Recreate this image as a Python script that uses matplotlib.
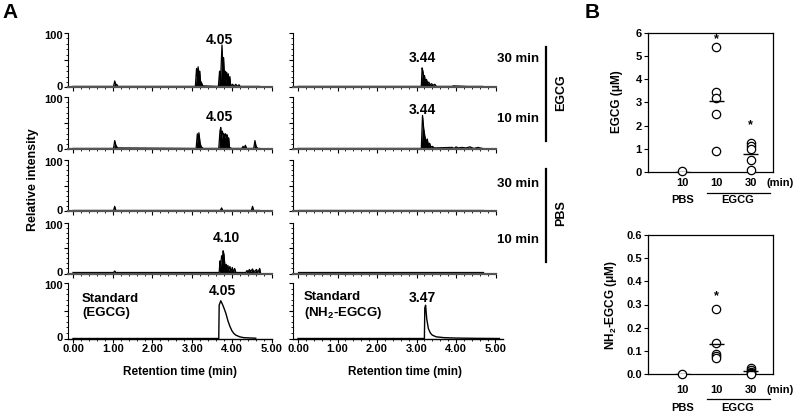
import matplotlib
matplotlib.use("Agg")
import matplotlib.pyplot as plt
from matplotlib.lines import Line2D
from matplotlib.ticker import MultipleLocator
import matplotlib.transforms as mtransforms

plt.rcParams["font.family"] = ["Liberation Sans", "DejaVu Sans"]
plt.rcParams["font.weight"] = "bold"
plt.rcParams["mathtext.default"] = "regular"

# --------------------------------------------------
# Panel A: chromatograms (retention time in min, relative intensity)
# --------------------------------------------------
# left column: EGCG channel
egcg30_t = [0.00, 1.02, 1.05, 1.08, 1.10, 1.13, 3.08, 3.11, 3.13, 3.15, 3.17, 3.19, 3.21, 3.24, 3.27,
            3.66, 3.69, 3.71, 3.73, 3.75, 3.77, 3.79, 3.81, 3.83, 3.85, 3.87, 3.89, 3.91, 3.93, 3.95,
            3.97, 4.02, 4.05, 4.10, 4.13, 4.18, 4.21, 4.70]
egcg30_i = [2, 2, 12, 4, 6, 2, 2, 35, 20, 38, 25, 30, 12, 8, 3,
            2, 30, 10, 40, 78, 45, 55, 25, 30, 10, 28, 12, 25, 8, 20,
            3, 6, 2, 6, 2, 5, 2, 2]

egcg10_t = [0.00, 1.02, 1.05, 1.08, 1.12, 3.10, 3.13, 3.15, 3.17, 3.20, 3.23, 3.28,
            3.67, 3.70, 3.72, 3.74, 3.76, 3.78, 3.80, 3.82, 3.84, 3.86, 3.88, 3.90, 3.92, 3.94, 4.00,
            4.25, 4.28, 4.31, 4.34, 4.37, 4.55, 4.58, 4.61, 4.65, 4.70]
egcg10_i = [2, 2, 17, 8, 3, 2, 30, 18, 32, 12, 5, 2,
            2, 35, 42, 20, 35, 28, 30, 22, 30, 25, 28, 20, 22, 4, 2,
            2, 6, 3, 8, 2, 2, 17, 6, 2, 2]

pbs30_t = [0.00, 1.02, 1.05, 1.08, 3.71, 3.74, 3.77, 4.49, 4.52, 4.55, 4.70]
pbs30_i = [2, 2, 10, 2, 2, 7, 2, 2, 10, 2, 2]

pbs10_t = [0.00, 1.02, 1.05, 1.08, 3.68, 3.70, 3.72, 3.74, 3.76, 3.78, 3.80, 3.82, 3.84, 3.86, 3.88,
           3.90, 3.92, 3.95, 3.98, 4.01, 4.04, 4.07, 4.10, 4.35, 4.38, 4.41, 4.44, 4.47, 4.52, 4.55,
           4.62, 4.65, 4.70, 4.72]
pbs10_i = [2, 2, 5, 2, 2, 25, 15, 35, 30, 45, 38, 20, 12, 18, 8,
           16, 6, 14, 4, 12, 3, 10, 2, 2, 6, 3, 8, 4, 9, 3,
           8, 2, 10, 2]

std_egcg_t = [0.00, 3.67, 3.68, 3.72, 3.76, 3.80, 3.85, 3.90, 3.95, 4.00, 4.05, 4.10, 4.20, 4.30, 4.60]
std_egcg_i = [0, 0, 60, 68, 62, 55, 45, 32, 22, 14, 9, 6, 3, 1.5, 0.5]

# right column: NH2-EGCG channel
nh30_t = [0.00, 3.12, 3.14, 3.16, 3.18, 3.20, 3.22, 3.25, 3.28, 3.31, 3.34, 3.38, 3.42, 3.46, 3.50,
          3.90, 3.93, 4.30, 4.67]
nh30_i = [2, 2, 36, 30, 20, 22, 12, 15, 8, 10, 5, 7, 4, 6, 2,
          2, 3, 2, 2]

nh10_t = [0.00, 3.12, 3.15, 3.18, 3.21, 3.24, 3.27, 3.30, 3.33, 3.36, 3.40, 3.45, 3.90, 3.95, 4.00,
          4.05, 4.15, 4.25, 4.35, 4.45, 4.55, 4.67]
nh10_i = [2, 2, 65, 40, 25, 15, 20, 8, 12, 5, 6, 3, 4, 2, 5,
          3, 4, 3, 5, 2, 4, 2]

nh_pbs30_t = [0.00, 4.67]
nh_pbs30_i = [2, 2]
nh_pbs10_t = [0.00, 4.67]
nh_pbs10_i = [2, 2]

std_nh_t = [0.00, 3.20, 3.21, 3.23, 3.26, 3.30, 3.35, 3.40, 3.50, 3.70, 4.00, 4.50, 5.10]
std_nh_i = [0, 0, 55, 60, 35, 18, 10, 6, 3, 1.5, 0.8, 0.3, 0]

left_traces = [(egcg30_t, egcg30_i), (egcg10_t, egcg10_i), (pbs30_t, pbs30_i),
               (pbs10_t, pbs10_i), (std_egcg_t, std_egcg_i)]
right_traces = [(nh30_t, nh30_i), (nh10_t, nh10_i), (nh_pbs30_t, nh_pbs30_i),
                (nh_pbs10_t, nh_pbs10_i), (std_nh_t, std_nh_i)]

x_ticks = [0, 1, 2, 3, 4, 5]
x_tick_labels = ["0.00", "1.00", "2.00", "3.00", "4.00", "5.00"]

# --------------------------------------------------
# Panel B: plasma concentrations (uM)
# --------------------------------------------------
groups = ["10", "10", "30"]
egcg_pbs = [0.03]
egcg_10 = [5.40, 3.45, 3.20, 2.52, 0.90]
egcg_30 = [1.27, 1.12, 0.98, 0.50, 0.10]
egcg_means = [0.02, 3.07, 0.76]
egcg_stars = [None, 5.75, 2.0]

nh_pbs = [0.0]
nh_10 = [0.280, 0.133, 0.088, 0.078, 0.070]
nh_30 = [0.025, 0.018, 0.010, 0.005, 0.002]
nh_means = [0.0, 0.13, 0.012]
nh_stars = [None, 0.335, None]

# --------------------------------------------------
# Figure
# --------------------------------------------------
W, H = 798, 415
fig = plt.figure(figsize=(W / 100, H / 100), dpi=100)


def px_axes(l, t, r, b):
    return fig.add_axes([l / W, 1 - b / H, (r - l) / W, (b - t) / H])


def ftext(x, y, s, **kw):
    kw.setdefault("ha", "center")
    kw.setdefault("va", "center")
    kw.setdefault("fontweight", "bold")
    fig.text(x / W, 1 - y / H, s, **kw)


rows_px = [(33, 87.5), (97, 149.5), (160, 211.5), (223, 273.5), (283, 338.5)]

for col, traces in enumerate([left_traces, right_traces]):
    for r, (t, v) in enumerate(traces):
        top, bot = rows_px[r]
        std = r == 4
        if col == 0:
            ax = px_axes(68, top, 272, bot)
            ax.set_xlim(-0.126, 5.01)
        else:
            right = 503 if std else 496
            ax = px_axes(293, top, right, bot)
            ax.set_xlim(-0.127, 5.01 + (0.18 if std else 0))
        ax.set_ylim(0, 100)
        if std:
            ax.plot(t, v, color="black", lw=1.0)
        else:
            ax.fill_between(t, v, 0, color="black", lw=0)
            ax.plot(t, v, color="black", lw=0.9)
        for s in ["top", "right"]:
            ax.spines[s].set_visible(False)
        ax.spines["left"].set_linewidth(0.8)
        if std:
            ax.spines["bottom"].set_linewidth(1.0)
        else:
            ax.spines["bottom"].set_color("#555555")
            ax.spines["bottom"].set_linewidth(1.6)
        ax.set_yticks([0, 50, 100])
        ax.yaxis.set_minor_locator(MultipleLocator(10))
        if col == 0:
            ax.set_yticklabels(["0", "", "100"])
        else:
            ax.set_yticklabels([])
        ax.set_xticks(x_ticks)
        ax.xaxis.set_minor_locator(MultipleLocator(0.2))
        if std:
            ax.set_xticklabels(x_tick_labels)
        else:
            ax.set_xticklabels([])
        ax.tick_params(which="major", length=3, width=0.8, labelsize=8, pad=1)
        ax.tick_params(which="minor", length=1.5, width=0.6)
        for lab in ax.get_xticklabels() + ax.get_yticklabels():
            lab.set_fontweight("bold")
        if col == 0:
            # nudge "0" up and "100" down so stacked rows do not collide
            ylabs = ax.get_yticklabels()
            ylabs[0].set_transform(ylabs[0].get_transform()
                                   + mtransforms.ScaledTranslation(0, 1.2 / 72, fig.dpi_scale_trans))
            ylabs[2].set_transform(ylabs[2].get_transform()
                                   + mtransforms.ScaledTranslation(0, -1.2 / 72, fig.dpi_scale_trans))
        ax.patch.set_alpha(0)

# peak labels
ftext(219, 40, "4.05", fontsize=10)
ftext(219, 117, "4.05", fontsize=10)
ftext(226, 238, "4.10", fontsize=10)
ftext(222, 291, "4.05", fontsize=10)
ftext(422, 58, "3.44", fontsize=10)
ftext(422, 110, "3.44", fontsize=10)
ftext(422, 298, "3.47", fontsize=10)

ftext(82, 306, "Standard\n(EGCG)", ha="left", fontsize=9.5, linespacing=1.25)
ftext(304, 306, "Standard\n(NH$_2$-EGCG)", ha="left", fontsize=9.5, linespacing=1.25)

ftext(180, 372, "Retention time (min)", fontsize=8.5)
ftext(405, 372, "Retention time (min)", fontsize=8.5)
ftext(33, 180, "Relative intensity", fontsize=9, rotation=90)

# condition labels
for y, s in [(59, "30 min"), (119, "10 min"), (184, "30 min"), (240, "10 min")]:
    ftext(518, y, s, fontsize=9.5)
for y0, y1 in [(47, 141), (169, 262)]:
    fig.add_artist(Line2D([545.7 / W, 545.7 / W], [1 - y0 / H, 1 - y1 / H], color="black", lw=1.6))
ftext(561.5, 93, "EGCG", fontsize=9, rotation=90)
ftext(561.5, 213, "PBS", fontsize=9, rotation=90)

ftext(10, 13, "A", fontsize=15)
ftext(592, 13, "B", fontsize=15)


# --------------------------------------------------
# Panel B
# --------------------------------------------------
def scatter_panel(ax, data, means, stars, line_y, group_y, tick_pad):
    for x, vals in enumerate(data, start=1):
        ax.plot([x] * len(vals), vals, "o", ms=6, mfc="white", mec="black", mew=0.9,
                clip_on=False, zorder=3)
    for x, m in enumerate(means, start=1):
        ax.hlines(m, x - 0.22, x + 0.22, color="black", lw=1.0, zorder=4)
    for x, s in enumerate(stars, start=1):
        if s is not None:
            ax.text(x, s, "*", ha="center", va="center", fontsize=9, fontweight="bold")
    ax.set_xlim(0.0, 3.65)
    ax.set_xticks([1, 2, 3])
    ax.set_xticklabels(groups)
    ax.tick_params(axis="x", length=0, pad=tick_pad, labelsize=8)
    ax.tick_params(axis="y", length=3, width=0.8, labelsize=8, pad=1.5)
    for lab in ax.get_xticklabels() + ax.get_yticklabels():
        lab.set_fontweight("bold")
    for sp in ax.spines.values():
        sp.set_linewidth(0.9)
    tr = mtransforms.blended_transform_factory(ax.transData, ax.transAxes)
    ax.text(3.85, group_y[0], "(min)", transform=tr, ha="center", va="center",
            fontsize=8, fontweight="bold")
    ax.plot([1.72, 3.55], [line_y, line_y], transform=tr, color="black", lw=0.9, clip_on=False)
    ax.text(1, group_y[1], "PBS", transform=tr, ha="center", va="center", fontsize=8, fontweight="bold")
    ax.text(2.63, group_y[1], "EGCG", transform=tr, ha="center", va="center", fontsize=8, fontweight="bold")


axb1 = px_axes(648, 33, 773, 172)
axb1.set_ylim(0, 6)
axb1.set_yticks([0, 1, 2, 3, 4, 5, 6])
scatter_panel(axb1, [egcg_pbs, egcg_10, egcg_30], egcg_means, egcg_stars,
              -0.148, (-0.08, -0.205), 4)
ftext(617, 102, "EGCG (μM)", fontsize=8.5, rotation=90)

axb2 = px_axes(648, 235, 773, 374)
axb2.set_ylim(0, 0.6)
axb2.set_yticks([0.0, 0.1, 0.2, 0.3, 0.4, 0.5, 0.6])
axb2.set_yticklabels(["0.0", "0.1", "0.2", "0.3", "0.4", "0.5", "0.6"])
scatter_panel(axb2, [nh_pbs, nh_10, nh_30], nh_means, nh_stars,
              -0.182, (-0.115, -0.245), 8)
ftext(611, 305, "NH$_2$-EGCG (μM)", fontsize=8.5, rotation=90)

fig.savefig("out.png", dpi=100)
